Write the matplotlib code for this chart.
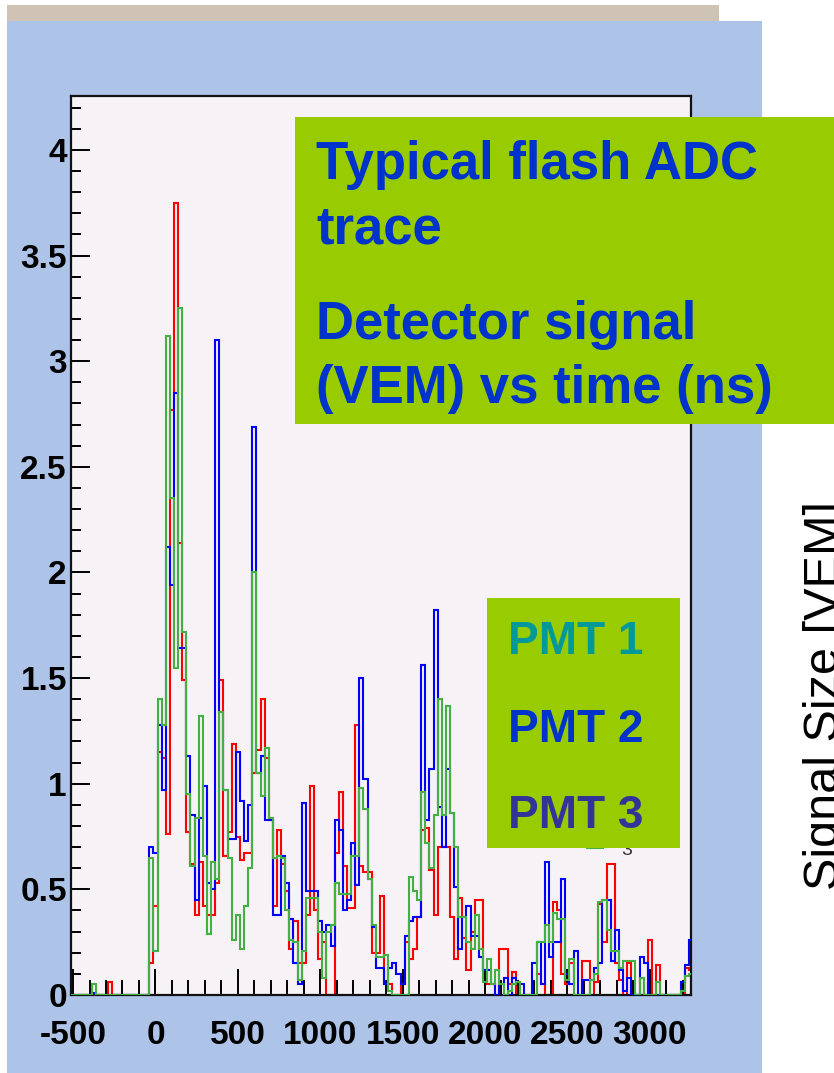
import numpy as np
import matplotlib
matplotlib.use('Agg')
import matplotlib.pyplot as plt
from matplotlib.patches import Rectangle
from matplotlib.lines import Line2D
from matplotlib.ticker import FixedLocator, MultipleLocator

plt.rcParams['font.family'] = ['Liberation Sans', 'DejaVu Sans']

# Canvas size in pixels
W, H = 834, 1073

# FADC trace: 25 ns bins starting at -512.5 ns (VEM per bin)
bin_start = -512.5
bin_width = 25.0

pmt1_red = [
    0, 0, 0, 0, 0, 0, 0, 0, 0, 0.06,
    0, 0, 0, 0, 0, 0, 0, 0, 0,
    0.15, 0.42, 1.15, 1.12, 0.76, 2.77, 3.75, 2.14, 1.49, 0.77,
    0.62, 0.38, 0.63, 0.42, 0.38, 0.38, 0.53, 1.49, 0.66, 0.77,
    1.19, 0.75, 0.64, 0.67, 0.67, 1.05, 1.16, 1.40, 1.12, 0.83,
    0.42, 0.78, 0.62, 0.49, 0.22, 0.35, 0.15, 0.15, 0.38, 0.99,
    0.40, 0.17, 0.25, 0.00, 0.00, 0.67, 0.96, 0.61, 0.41, 0.41,
    1.28, 0.61, 0.58, 0.58, 0.20, 0.20, 0.47, 0.05, 0.05, 0.00,
    0.00, 0.05, 0.25, 0.17, 0.22, 0.37, 0.78, 0.79, 0.59, 0.38,
    0.70, 0.70, 0.70, 0.37, 0.17, 0.46, 0.27, 0.12, 0.30, 0.45,
    0.45, 0.12, 0.05, 0.05, 0.00, 0.22, 0.22, 0.05, 0.11, 0.00,
    0.00, 0.00, 0.00, 0.00, 0.10, 0.05, 0.00, 0.00, 0.44, 0.40,
    0.10, 0.05, 0.15, 0.00, 0.00, 0.16, 0.16, 0.00, 0.06, 0.43,
    0.25, 0.62, 0.62, 0.15, 0.07, 0.00, 0.15, 0.00, 0.00, 0.08,
    0.00, 0.26, 0.00, 0.14, 0.00, 0.00, 0.00, 0.00, 0.00, 0.00,
    0.13, 0.12,
]

pmt2_blue = [
    0, 0, 0, 0, 0, 0.01, 0, 0, 0, 0,
    0, 0, 0, 0, 0, 0, 0, 0, 0,
    0.70, 0.67, 1.28, 0.97, 2.12, 1.94, 2.85, 1.64, 1.64, 1.13,
    0.85, 0.45, 0.84, 0.99, 0.53, 0.50, 3.10, 1.34, 0.97, 0.74,
    0.74, 1.15, 0.92, 0.73, 0.90, 2.69, 1.05, 1.13, 0.83, 0.83,
    0.38, 0.38, 0.66, 0.53, 0.36, 0.15, 0.05, 0.91, 0.49, 0.49,
    0.49, 0.35, 0.30, 0.33, 0.23, 0.83, 0.78, 0.40, 0.45, 0.72,
    0.52, 1.50, 1.02, 0.55, 0.32, 0.13, 0.13, 0.05, 0.13, 0.15,
    0.10, 0.05, 0.28, 0.35, 0.37, 0.37, 1.56, 0.83, 1.07, 1.82,
    0.89, 0.70, 1.07, 0.86, 0.51, 0.22, 0.37, 0.42, 0.28, 0.28,
    0.18, 0.12, 0.12, 0.05, 0.00, 0.05, 0.08, 0.00, 0.08, 0.06,
    0.05, 0.00, 0.00, 0.15, 0.25, 0.05, 0.63, 0.18, 0.25, 0.25,
    0.55, 0.10, 0.05, 0.21, 0.00, 0.07, 0.07, 0.07, 0.13, 0.15,
    0.45, 0.45, 0.16, 0.31, 0.12, 0.02, 0.08, 0.00, 0.00, 0.18,
    0.15, 0.00, 0.00, 0.00, 0.00, 0.00, 0.00, 0.00, 0.00, 0.06,
    0.14, 0.26,
]

pmt3_green = [
    0, 0, 0, 0, 0, 0.05, 0, 0, 0, 0,
    0, 0, 0, 0, 0, 0, 0, 0, 0,
    0.65, 0.21, 1.40, 1.28, 3.12, 2.35, 1.55, 3.25, 1.72, 0.95,
    0.61, 0.84, 1.32, 0.66, 0.29, 0.63, 0.55, 1.34, 0.97, 0.65,
    0.26, 0.38, 0.22, 0.42, 0.60, 2.00, 1.05, 0.94, 1.17, 0.84,
    0.65, 0.66, 0.65, 0.40, 0.26, 0.25, 0.07, 0.21, 0.46, 0.46,
    0.46, 0.30, 0.08, 0.30, 0.33, 0.53, 0.48, 0.48, 0.48, 0.66,
    0.66, 0.98, 0.88, 0.55, 0.33, 0.18, 0.18, 0.19, 0.02, 0.00,
    0.00, 0.00, 0.00, 0.56, 0.49, 0.45, 0.96, 0.72, 0.60, 0.85,
    1.40, 0.85, 1.37, 0.86, 0.70, 0.37, 0.37, 0.25, 0.22, 0.38,
    0.22, 0.06, 0.17, 0.05, 0.12, 0.05, 0.00, 0.02, 0.05, 0.06,
    0.00, 0.00, 0.00, 0.00, 0.25, 0.25, 0.33, 0.25, 0.39, 0.36,
    0.36, 0.07, 0.17, 0.00, 0.00, 0.00, 0.00, 0.07, 0.10, 0.44,
    0.45, 0.31, 0.21, 0.21, 0.13, 0.16, 0.16, 0.16, 0.00, 0.08,
    0.00, 0.00, 0.00, 0.06, 0.00, 0.00, 0.00, 0.00, 0.00, 0.02,
    0.09, 0.10,
]

x_ticks = [-500, 0, 500, 1000, 1500, 2000, 2500, 3000]
x_labels = ['-500', '0', '500', '1000', '1500', '2000', '2500', '3000']
y_ticks = [0, 0.5, 1, 1.5, 2, 2.5, 3, 3.5, 4]
y_labels = ['0', '0.5', '1', '1.5', '2', '2.5', '3', '3.5', '4']

title_lines = ['Typical flash ADC', 'trace', 'Detector signal', '(VEM) vs time (ns)']
pmt_names = ['PMT 1', 'PMT 2', 'PMT 3']
pmt_text_colors = ['#009999', '#0033cc', '#333399']


def fx(x):
    return x / W


def fy(y):
    return 1 - y / H


def px_box(x0, y0, x1, y1):
    return (fx(x0), fy(y1)), (x1 - x0) / W, (y1 - y0) / H


fig = plt.figure(figsize=(W / 100, H / 100), dpi=100)
fig.patch.set_facecolor('white')

# slide background
for (x0, y0, x1, y1), col in [((7, 5, 719, 21), '#cfc3b5'),
                              ((7, 21, 762, 1073), '#aec3e8')]:
    xy, w, h = px_box(x0, y0, x1, y1)
    fig.add_artist(Rectangle(xy, w, h, transform=fig.transFigure,
                             facecolor=col, edgecolor='none', zorder=-2))

ax = fig.add_axes([fx(71), fy(995), (691 - 71) / W, (995 - 96) / H])
ax.set_facecolor('#f6f2f6')

edges = bin_start + bin_width * np.arange(len(pmt1_red) + 1)
ax.stairs(pmt1_red, edges, color='#ff0000', lw=1.5, zorder=2)
ax.stairs(pmt2_blue, edges, color='#0000ff', lw=1.5, zorder=3)
ax.stairs(pmt3_green, edges, color='#44b044', lw=1.5, zorder=4)

ax.set_xlim(-512.5, 3250)
ax.set_ylim(0, 4.255)

ax.xaxis.set_major_locator(FixedLocator(x_ticks))
ax.xaxis.set_minor_locator(MultipleLocator(100))
ax.yaxis.set_major_locator(FixedLocator(y_ticks))
ax.yaxis.set_minor_locator(MultipleLocator(0.1))
ax.set_xticklabels(x_labels, fontweight='bold', fontsize=24)
ax.set_yticklabels(y_labels, fontweight='bold', fontsize=24)

ax.tick_params(axis='x', which='major', direction='in', length=19, width=1.4, pad=18)
ax.tick_params(axis='x', which='minor', direction='in', length=11, width=1.4)
ax.tick_params(axis='y', which='major', direction='in', length=14, width=1.4, pad=3)
ax.tick_params(axis='y', which='minor', direction='in', length=7, width=1.4)
ax.tick_params(top=False, right=False, which='both')
for sp in ax.spines.values():
    sp.set_linewidth(1.6)
    sp.set_color('#111111')

# leftover legend entry peeking out below the PMT box
fig.add_artist(Line2D([fx(587), fx(603)], [fy(848), fy(848)], transform=fig.transFigure,
                      color='#44b044', lw=1.5, zorder=3))
fig.text(fx(621), fy(855), '3', fontsize=14, color='#333333', va='baseline', zorder=3)

# title box
xy, w, h = px_box(295, 117, 840, 424)
fig.add_artist(Rectangle(xy, w, h, transform=fig.transFigure,
                         facecolor='#99cc00', edgecolor='none', zorder=5))
for line, base in zip(title_lines, [179, 243, 339, 403]):
    fig.text(fx(316), fy(base), line, fontsize=38, fontweight='bold',
             color='#0033cc', va='baseline', ha='left', zorder=6)

# PMT labels box
xy, w, h = px_box(487, 598, 680, 848)
fig.add_artist(Rectangle(xy, w, h, transform=fig.transFigure,
                         facecolor='#99cc00', edgecolor='none', zorder=5))
for name, col, base in zip(pmt_names, pmt_text_colors, [654, 742, 828]):
    fig.text(fx(508), fy(base), name, fontsize=33, fontweight='bold',
             color=col, va='baseline', ha='left', zorder=6)

# axis title from the neighbouring plot, cut by the page edge
fig.text(fx(837.5), fy(696), 'Signal Size [VEM]', fontsize=35, rotation=90,
         rotation_mode='anchor', ha='center', va='baseline', color='black')

fig.savefig('out.png', dpi=100)
